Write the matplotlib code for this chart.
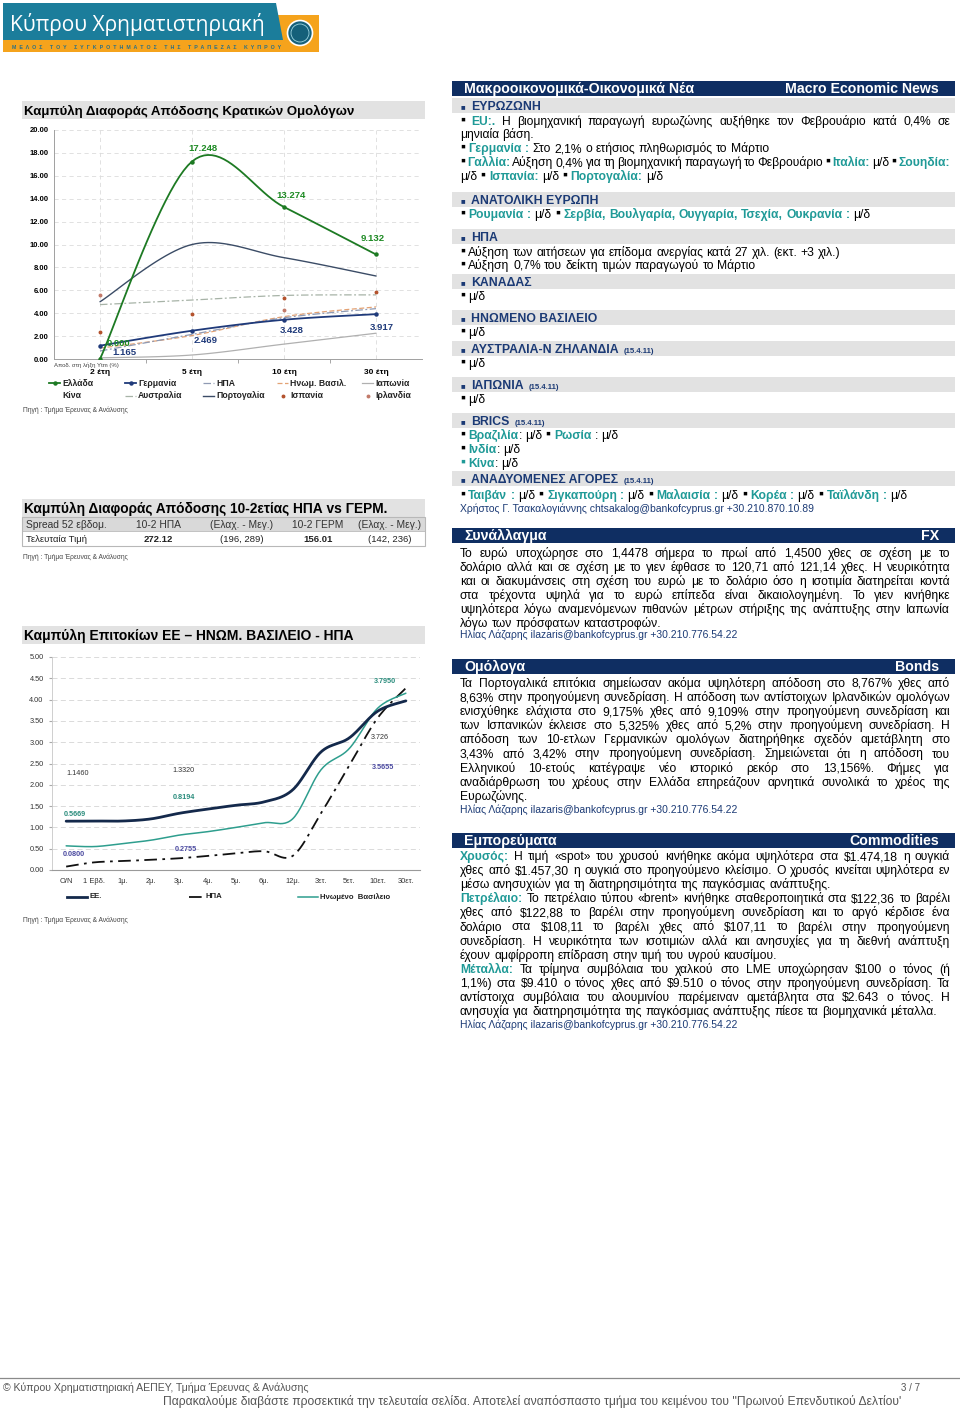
import matplotlib
matplotlib.use('Agg')
import matplotlib.pyplot as plt
from matplotlib.patches import Rectangle, Polygon, Circle
import numpy as np

plt.rcParams['font.family'] = ['Liberation Sans', 'DejaVu Sans']

# ---- yield curves of government bonds (chart 1) ----
tenors = ['2 έτη', '5 έτη', '10 έτη', '30 έτη']
greece = [0.000, 17.248, 13.274, 9.132]
germany = [1.165, 2.469, 3.428, 3.917]
usa = [0.70, 2.15, 3.60, 4.40]
uk = [0.95, 2.05, 3.70, 4.55]
japan = [0.10, 0.35, 1.30, 2.25]
china = [np.nan, np.nan, np.nan, np.nan]
australia = [4.75, 5.15, 5.55, 5.60]
portugal = [5.00, 10.00, 8.85, 7.25]
spain = [2.35, 3.90, 5.30, 5.85]
ireland = [5.60, np.nan, 4.30, np.nan]

# ---- 10-2 spread table ----
spread_head = ['Spread 52 εβδομ.', '10-2 ΗΠΑ', '(Ελαχ. - Μεγ.)', '10-2 ΓΕΡΜ', '(Ελαχ. - Μεγ.)']
spread_last = ['Τελευταία Τιμή', '272.12', '(196, 289)', '156.01', '(142, 236)']

# ---- money market / yield curves (chart 3) ----
maturities = ['O/N', '1 Εβδ.', '1μ.', '2μ.', '3μ.', '4μ.', '5μ.', '6μ.', '12μ.', '3ετ.', '5ετ.', '10ετ.', '30ετ.']
eu_rates = [1.1460, 1.15, 1.15, 1.20, 1.3320, 1.43, 1.52, 1.60, 1.88, 2.77, 3.10, 3.726, 3.97]
uk_rates = [0.5669, 0.55, 0.62, 0.70, 0.8194, 0.90, 1.00, 1.11, 1.20, 2.35, 2.85, 3.7950, 4.15]
us_rates = [0.0800, 0.18, 0.21, 0.24, 0.2755, 0.33, 0.39, 0.44, 0.33, 1.33, 2.45, 3.5655, 4.27]

TEAL = '#1f9a97'
NAVY = '#1b3a75'
BAR = '#0f2e62'
GRAY_BAR = '#e2e2e2'

W, H = 960, 1409
fig = plt.figure(figsize=(W / 100, H / 100), dpi=100)
bg = fig.add_axes([0, 0, 1, 1])
bg.set_xlim(0, W)
bg.set_ylim(H, 0)
bg.axis('off')
renderer = fig.canvas.get_renderer()


def width_of(t):
    return t.get_window_extent(renderer).width


def fit_size(s, x0, x1, **kw):
    t = bg.text(0, 0, s, fontsize=10, **kw)
    w = width_of(t)
    t.remove()
    return 10 * (x1 - x0) / w


def fit_text(x0, x1, y, s, **kw):
    size = fit_size(s, x0, x1, **kw)
    return bg.text(x0, y, s, fontsize=size, va='baseline', **kw)


def smooth(vals, n=24):
    # excel-like smoothed line through the points
    y = np.asarray(vals, float)
    pts = np.column_stack([np.arange(len(y), dtype=float), y])
    out = []
    t = np.linspace(0, 1, n)[:, None]
    for i in range(len(pts) - 1):
        p0 = pts[i - 1] if i > 0 else pts[i]
        p1, p2 = pts[i], pts[i + 1]
        p3 = pts[i + 2] if i + 2 < len(pts) else pts[i + 1]
        c1 = p1 + (p2 - p0) / 6
        c2 = p2 - (p3 - p1) / 6
        seg = (1 - t) ** 3 * p1 + 3 * (1 - t) ** 2 * t * c1 + 3 * (1 - t) * t ** 2 * c2 + t ** 3 * p2
        out.append(seg if i == 0 else seg[1:])
    s = np.vstack(out)
    return s[:, 0], s[:, 1]


SPACE = {}


def space_w(size):
    if size not in SPACE:
        a = bg.text(0, 0, 'n n', fontsize=size)
        b = bg.text(0, 0, 'nn', fontsize=size)
        SPACE[size] = width_of(a) - width_of(b)
        a.remove()
        b.remove()
    return SPACE[size]


def draw_runs(runs, x0, y, x1=None, size=8.4):
    tokens = []
    space_next = False
    for txt, color, weight in runs:
        for k, part in enumerate(txt.split(' ')):
            if k > 0:
                space_next = True
            if part:
                tokens.append((part, color, weight, space_next and bool(tokens)))
                space_next = False
    objs = []
    total = 0
    gaps = 0
    for part, color, weight, sp in tokens:
        dy = -1.8 if part == '▪' else 0
        t = bg.text(x0, y + dy, part, fontsize=size * (1.15 if part == '▪' else 1), color=color,
                    fontweight=weight, va='baseline')
        w = width_of(t)
        objs.append((t, w, sp))
        total += w
        gaps += sp
    gap = space_w(size)
    if x1 is not None and gaps:
        gap = (x1 - x0 - total) / gaps
    x = x0
    for t, w, sp in objs:
        if sp:
            x += gap
        t.set_x(x)
        x += w


def N(s):
    return (s, 'black', 'normal')


def B(s):
    return (s, TEAL, 'bold')


# ---------------- logo ----------------
bg.add_patch(Rectangle((3, 39), 282, 13, color='#f5a31c', lw=0))
bg.add_patch(Rectangle((277, 15), 42, 37, color='#f5a31c', lw=0))
bg.add_patch(Polygon([(3, 3), (276, 3), (283, 40), (3, 40)], closed=True, color='#1b7d9b', lw=0))
fit_text(10, 266, 31, 'Κύπρου Χρηματιστηριακή', color='white', family='Open Sans')
fit_text(12, 278, 49, '  '.join('ΜΕΛΟΣ ΤΟΥ ΣΥΓΚΡΟΤΗΜΑΤΟΣ ΤΗΣ ΤΡΑΠΕΖΑΣ ΚΥΠΡΟΥ'),
         color='#2a6f86', fontweight='bold')
bg.add_patch(Circle((300, 33), 12.5, facecolor='#15607a', edgecolor='white', lw=1.2))
bg.add_patch(Circle((300, 33), 9, facecolor='none', edgecolor='#9fd6e2', lw=0.6))

# ---------------- chart 1 ----------------
bg.add_patch(Rectangle((22, 101), 403, 18, color=GRAY_BAR, lw=0))
fit_text(24, 356, 115, 'Καμπύλη Διαφοράς Απόδοσης Κρατικών Ομολόγων', fontweight='bold')

ax1 = fig.add_axes([54 / W, 1 - 359 / H, 368 / W, 229 / H])
ax1.set_xlim(-0.5, 3.5)
ax1.set_ylim(0, 20)
ax1.set_yticks(np.arange(0, 21, 2))
ax1.set_yticklabels(['%.2f' % v for v in np.arange(0, 21, 2)], fontsize=5.5, fontweight='bold')
ax1.set_xticks(range(4))
ax1.set_xticklabels(tenors, fontsize=6, fontweight='bold')
ax1.set_xticks([0.5, 1.5, 2.5], minor=True)
ax1.tick_params(axis='x', which='major', length=0, pad=7)
ax1.tick_params(axis='x', which='minor', length=3, color='#999999')
ax1.tick_params(axis='y', length=0, pad=4)
ax1.grid(True, ls=(0, (5, 4)), color='#dcdcdc', lw=0.6)
for sp in ['top', 'right']:
    ax1.spines[sp].set_visible(False)
for sp in ['left', 'bottom']:
    ax1.spines[sp].set_color('#a0a0a0')
    ax1.spines[sp].set_linewidth(0.7)

series1 = [
    ('Ελλάδα', greece, dict(color='#1d7a23', lw=1.3), dict(marker='o', ms=2.2)),
    ('Γερμανία', germany, dict(color='#1f3a7a', lw=1.3), dict(marker='o', ms=2.2)),
    ('ΗΠΑ', usa, dict(color='#8f9ab3', lw=0.9, ls=(0, (6, 2, 1.5, 2))), None),
    ('Ηνωμ. Βασιλ.', uk, dict(color='#e3a274', lw=0.9, ls=(0, (4, 2))), None),
    ('Ιαπωνία', japan, dict(color='#b0b0b0', lw=0.9), None),
    ('Κίνα', china, None, None),
    ('Αυστραλία', australia, dict(color='#a7b3a7', lw=0.9, ls=(0, (6, 2, 1.5, 2))), None),
    ('Πορτογαλία', portugal, dict(color='#3b4c66', lw=1.0), None),
    ('Ισπανία', spain, None, dict(marker='o', ms=1.8, color='#b4532e')),
    ('Ιρλανδία', ireland, None, dict(marker='o', ms=1.8, color='#c27a6a')),
]
for name, vals, lstyle, mstyle in series1[::-1]:
    z = 5 if name in ('Ελλάδα', 'Γερμανία') else 3
    if lstyle is not None:
        xs, ys = smooth(vals)
        ax1.plot(xs, ys, zorder=z, solid_capstyle='round', **lstyle)
    if mstyle is not None:
        c = mstyle.get('color', lstyle['color'] if lstyle else 'k')
        ax1.plot(range(len(vals)), vals, ls='none', marker=mstyle['marker'], ms=mstyle['ms'],
                 color=c, zorder=z + 1)

greek_offsets = [(18, 15), (11, 13.5), (7, 12), (-3, 16)]
for i, v in enumerate(greece):
    ax1.annotate('%.3f' % v, (i, v), xytext=greek_offsets[i], textcoords='offset pixels',
                 ha='center', va='center', fontsize=6.8, fontweight='bold', color='#1d8a23', zorder=8)
germ_offsets = [(24, -7), (14, -10), (8, -11), (6, -13)]
for i, v in enumerate(germany):
    ax1.annotate('%.3f' % v, (i, v), xytext=germ_offsets[i], textcoords='offset pixels',
                 ha='center', va='center', fontsize=6.8, fontweight='bold', color='#1f3a7a', zorder=8)
bg.text(236, 215, 'Ελλάδα', fontsize=6.8, color='#1d8a23', fontweight='bold', ha='center', va='center')
bg.text(247, 341, 'Γερμανία', fontsize=7, color='#1f3a7a', fontweight='bold', ha='center', va='center')
bg.text(54, 365, 'Αποδ. στη λήξη Ytm (%)', fontsize=4.3, color='#444444', va='center')

label_x = [62, 138, 216, 290, 375]
for k, (name, vals, lstyle, mstyle) in enumerate(series1):
    row, col = divmod(k, 5)
    y = 383 + 13 * row
    lx = label_x[col]
    if lstyle is not None:
        bg.plot([lx - 13, lx - 2], [y, y], **lstyle)
    if mstyle is not None:
        c = mstyle.get('color', lstyle['color'] if lstyle else 'k')
        bg.plot([lx - 7.5], [y], marker='o', ms=mstyle['ms'], color=c)
    bg.text(lx, y, name, fontsize=6.2, fontweight='bold', va='center', color='#222222')
bg.text(23, 410, 'Πηγή : Τμήμα Έρευνας & Ανάλυσης', fontsize=4.8, color='#444444', va='center')

# ---------------- spread table ----------------
bg.add_patch(Rectangle((22, 499), 403, 18, color=GRAY_BAR, lw=0))
fit_text(24, 389, 513, 'Καμπύλη Διαφοράς Απόδοσης 10-2ετίας ΗΠΑ vs ΓΕΡΜ.', fontweight='bold')
bg.add_patch(Rectangle((22, 517), 403, 14, color='#d9d9d9', lw=0))
bg.add_patch(Rectangle((22, 517), 403, 29, facecolor='none', edgecolor='#b8b8b8', lw=0.8))
bg.plot([22, 425], [531, 531], color='#b8b8b8', lw=0.6)
col_x = [26, 158, 242, 318, 390]
for j in range(5):
    ha = 'left' if j == 0 else 'center'
    bg.text(col_x[j], 527.5, spread_head[j], fontsize=7.4, ha=ha, va='baseline', color='#333333')
    bold = 'bold' if j in (1, 3) else 'normal'
    bg.text(col_x[j], 542, spread_last[j], fontsize=6.8, ha=ha, va='baseline', fontweight=bold,
            color='#222222')
bg.text(23, 557, 'Πηγή : Τμήμα Έρευνας & Ανάλυσης', fontsize=4.8, color='#444444', va='center')

# ---------------- chart 3 ----------------
bg.add_patch(Rectangle((22, 626), 403, 18, color=GRAY_BAR, lw=0))
fit_text(24, 352, 640, 'Καμπύλη Επιτοκίων ΕΕ – ΗΝΩΜ. ΒΑΣΙΛΕΙΟ - ΗΠΑ', fontweight='bold')

ax3 = fig.add_axes([52 / W, 1 - 870 / H, 368 / W, 213 / H])
ax3.set_xlim(-0.5, 12.5)
ax3.set_ylim(0, 5)
yt = np.arange(0, 5.01, 0.5)
ax3.set_yticks(yt)
ax3.set_yticklabels(['%.2f' % v for v in yt], fontsize=5.3, color='#333333')
ax3.set_xticks(range(len(maturities)))
ax3.set_xticklabels(maturities, fontsize=5.4, color='#333333')
ax3.tick_params(axis='x', length=0, pad=6)
ax3.tick_params(axis='y', length=2, color='#aaaaaa', pad=4)
ax3.grid(True, axis='y', ls=(0, (6, 4)), color='#d4d4d4', lw=0.6)
for sp in ['top', 'right']:
    ax3.spines[sp].set_visible(False)
ax3.spines['left'].set_color('#c8c8c8')
ax3.spines['bottom'].set_color('#9a9a9a')
ax3.spines['left'].set_linewidth(0.6)
ax3.spines['bottom'].set_linewidth(0.8)

eu_style = dict(color='#14294b', lw=2.0)
uk_style = dict(color='#2e9e8e', lw=1.1)
us_style = dict(color='#111111', lw=1.3, ls=(0, (7, 3, 1.5, 3)))
for vals, st in [(us_rates, us_style), (uk_rates, uk_style), (eu_rates, eu_style)]:
    xs, ys = smooth(vals)
    ax3.plot(xs, ys, solid_capstyle='round', **st)

labels3 = [
    (eu_rates, 0, '#333333', (11, 48), '%.4f'), (eu_rates, 4, '#333333', (4, 43), '%.4f'),
    (eu_rates, 11, '#333333', (2, -26), '%.3f'),
    (uk_rates, 0, '#2a8c7c', (9, 31), '%.4f'), (uk_rates, 4, '#2a8c7c', (5, 38), '%.4f'),
    (uk_rates, 11, '#2a8c7c', (7, 27), '%.4f'),
    (us_rates, 0, '#4b4aa0', (8, 12), '%.4f'), (us_rates, 4, '#4b4aa0', (6, 9), '%.4f'),
    (us_rates, 11, '#4b4aa0', (5, -49), '%.4f'),
]
for vals, i, c, off, fmt in labels3:
    ax3.annotate(fmt % vals[i], (i, vals[i]), xytext=off, textcoords='offset pixels',
                 ha='center', va='center', fontsize=5.2, color=c,
                 fontweight='bold' if c != '#333333' else 'normal')

legend3 = [('ΕΕ.', eu_style, 88), ('ΗΠΑ', us_style, 204), ('Ηνωμένο  Βασίλειο', uk_style, 319)]
for name, st, lx in legend3:
    hl = 14 if name == 'ΗΠΑ' else 20
    bg.plot([lx - hl - 1, lx - 1], [897, 897], **st)
    bg.text(lx + 1, 897, name, fontsize=5.6, fontweight='bold', va='center', color='#222222')
bg.text(23, 920, 'Πηγή : Τμήμα Έρευνας & Ανάλυσης', fontsize=4.8, color='#444444', va='center')

# ---------------- right column ----------------
RX0, RX1 = 460, 950
BODY = fit_size('▪ Αύξηση 0,7% του δείκτη τιμών παραγωγού το Μάρτιο', 460, 755)
HEAD = fit_size('ΕΥΡΩΖΩΝΗ', 471, 540, fontweight='bold')
BANNER = fit_size('Μακροοικονομικά-Οικονομικά Νέα', 463, 690, fontweight='bold')


def banner(y0, left, right):
    bg.add_patch(Rectangle((452, y0), 503, 15, color=BAR, lw=0))
    bg.text(464, y0 + 12, left, fontsize=BANNER, color='white', fontweight='bold', va='baseline')
    bg.text(939, y0 + 12, right, fontsize=BANNER, color='white', fontweight='bold', va='baseline',
            ha='right')


def section(y0, name, date=None):
    bg.add_patch(Rectangle((452, y0), 503, 15, color=GRAY_BAR, lw=0))
    bg.text(461, y0 + 11.5, '■', fontsize=5.5, color=NAVY, va='baseline')
    t = bg.text(471, y0 + 12, name, fontsize=HEAD, color=NAVY, fontweight='bold', va='baseline')
    if date:
        bg.text(471 + width_of(t) + 5, y0 + 12, date, fontsize=5.6, color=NAVY, fontweight='bold',
                va='baseline')


def author(y, s, x1):
    fit_text(460, x1, y, s, color=NAVY)


banner(81, 'Μακροοικονομικά-Οικονομικά Νέα', 'Macro Economic News')
section(98, 'ΕΥΡΩΖΩΝΗ')
draw_runs([N('▪ '), B('EU:.'), N(' Η βιομηχανική παραγωγή ευρωζώνης αυξήθηκε τον Φεβρουάριο κατά 0,4% σε')],
          RX0, 125, RX1, BODY)
draw_runs([N('μηνιαία βάση.')], RX0, 138, None, BODY)
draw_runs([N('▪ '), B('Γερμανία :'), N(' Στο 2,1% ο ετήσιος πληθωρισμός το Μάρτιο')], RX0, 152, None, BODY)
draw_runs([N('▪ '), B('Γαλλία:'), N(' Αύξηση 0,4% για τη βιομηχανική παραγωγή το Φεβρουάριο ▪ '),
           B('Ιταλία:'), N(' μ/δ ▪ '), B('Σουηδία:')], RX0, 166, RX1, BODY)
draw_runs([N('μ/δ ▪ '), B('Ισπανία:'), N(' μ/δ ▪ '), B('Πορτογαλία:'), N(' μ/δ')], RX0, 180, None, BODY)

section(192, 'ΑΝΑΤΟΛΙΚΗ ΕΥΡΩΠΗ')
draw_runs([N('▪ '), B('Ρουμανία :'), N(' μ/δ ▪ '), B('Σερβία, Βουλγαρία, Ουγγαρία, Τσεχία, Ουκρανία :'),
           N(' μ/δ')], RX0, 218, None, BODY)

section(229, 'ΗΠΑ')
draw_runs([N('▪ Αύξηση των αιτήσεων για επίδομα ανεργίας κατά 27 χιλ. (εκτ. +3 χιλ.)')], RX0, 256, None, BODY)
draw_runs([N('▪ Αύξηση 0,7% του δείκτη τιμών παραγωγού το Μάρτιο')], RX0, 269, None, BODY)
section(274, 'ΚΑΝΑΔΑΣ')
draw_runs([N('▪ μ/δ')], RX0, 300, None, BODY)
section(310, 'ΗΝΩΜΕΝΟ ΒΑΣΙΛΕΙΟ')
draw_runs([N('▪ μ/δ')], RX0, 336, None, BODY)
section(341, 'ΑΥΣΤΡΑΛΙΑ-Ν ΖΗΛΑΝΔΙΑ', '(15.4.11)')
draw_runs([N('▪ μ/δ')], RX0, 367, None, BODY)
section(377, 'ΙΑΠΩΝΙΑ', '(15.4.11)')
draw_runs([N('▪ μ/δ')], RX0, 403, None, BODY)
section(413, 'BRICS', '(15.4.11)')
draw_runs([N('▪ '), B('Βραζιλία'), N(': μ/δ ▪ '), B('Ρωσία'), N(' : μ/δ')], RX0, 439, None, BODY)
draw_runs([N('▪ '), B('Ινδία'), N(': μ/δ')], RX0, 453, None, BODY)
draw_runs([B('▪ Κίνα'), N(': μ/δ')], RX0, 467, None, BODY)
section(471, 'ΑΝΑΔΥΟΜΕΝΕΣ ΑΓΟΡΕΣ', '(15.4.11)')
draw_runs([N('▪ '), B('Ταιβάν :'), N(' μ/δ ▪ '), B('Σιγκαπούρη :'), N(' μ/δ ▪ '), B('Μαλαισία :'),
           N(' μ/δ ▪ '), B('Κορέα :'), N('  μ/δ ▪ '), B('Ταϊλάνδη :'), N(' μ/δ')], RX0, 499, None, BODY)
author(512, 'Χρήστος Γ. Τσακαλογιάννης chtsakalog@bankofcyprus.gr +30.210.870.10.89', 813)

fx_lines = [
    'Το ευρώ υποχώρησε στο 1,4478 σήμερα το πρωί από 1,4500 χθες σε σχέση με το',
    'δολάριο αλλά και σε σχέση με το γιεν έφθασε το 120,71 από 121,14 χθες. Η νευρικότητα',
    'και οι διακυμάνσεις στη σχέση του ευρώ με το δολάριο όσο η ισοτιμία διατηρείται κοντά',
    'στα τρέχοντα υψηλά για το ευρώ επίπεδα είναι δικαιολογημένη. Το γιεν κινήθηκε',
    'υψηλότερα λόγω αναμενόμενων πιθανών μέτρων στήριξης της ανάπτυξης στην Ιαπωνία',
    'λόγω των πρόσφατων καταστροφών.',
]
banner(528, 'Συνάλλαγμα', 'FX')
for k, s in enumerate(fx_lines):
    draw_runs([N(s)], RX0, 557 + 14 * k, RX1 if k < len(fx_lines) - 1 else None, BODY)
author(638, 'Ηλίας Λάζαρης ilazaris@bankofcyprus.gr +30.210.776.54.22', 737)

bond_lines = [
    'Τα Πορτογαλικά επιτόκια σημείωσαν ακόμα υψηλότερη απόδοση στο 8,767% χθες από',
    '8,63% στην προηγούμενη συνεδρίαση. Η απόδοση των αντίστοιχων Ιρλανδικών ομολόγων',
    'ενισχύθηκε ελάχιστα στο 9,175% χθες από 9,109% στην προηγούμενη συνεδρίαση και',
    'των Ισπανικών έκλεισε στο 5,325% χθες από 5,2% στην προηγούμενη συνεδρίαση. Η',
    'απόδοση των 10-ετλων Γερμανικών ομολόγων διατηρήθηκε σχεδόν αμετάβλητη στο',
    '3,43% από 3,42% στην προηγούμενη συνεδρίαση. Σημειώνεται ότι η απόδοση του',
    'Ελληνικού 10-ετούς κατέγραψε νέο ιστορικό ρεκόρ στο 13,156%. Φήμες για',
    'αναδιάρθρωση του χρέους στην Ελλάδα επηρεάζουν αρνητικά συνολικά το χρέος της',
    'Ευρωζώνης.',
]
banner(659, 'Ομόλογα', 'Bonds')
for k, s in enumerate(bond_lines):
    draw_runs([N(s)], RX0, 687 + 14.1 * k, RX1 if k < len(bond_lines) - 1 else None, BODY)
author(813, 'Ηλίας Λάζαρης ilazaris@bankofcyprus.gr +30.210.776.54.22', 737)

commodity_lines = [
    ([B('Χρυσός:'), N(' Η τιμή «spot» του χρυσού κινήθηκε ακόμα υψηλότερα στα $1.474,18 η ουγκιά')], True),
    ([N('χθες από $1.457,30 η ουγκιά στο προηγούμενο κλείσιμο. Ο χρυσός κινείται υψηλότερα εν')], True),
    ([N('μέσω ανησυχιών για τη διατηρησιμότητα της παγκόσμιας ανάπτυξης.')], False),
    ([B('Πετρέλαιο:'), N(' Το πετρέλαιο τύπου «brent» κινήθηκε σταθεροποιητικά στα $122,36 το βαρέλι')], True),
    ([N('χθες από $122,88 το βαρέλι στην προηγούμενη συνεδρίαση και το αργό κέρδισε ένα')], True),
    ([N('δολάριο στα $108,11 το βαρέλι χθες από $107,11 το βαρέλι στην προηγούμενη')], True),
    ([N('συνεδρίαση. Η νευρικότητα των ισοτιμιών αλλά και ανησυχίες για τη διεθνή ανάπτυξη')], True),
    ([N('έχουν αμφίρροπη επίδραση στην τιμή του υγρού καυσίμου.')], False),
    ([B('Μέταλλα:'), N(' Τα τρίμηνα συμβόλαια του χαλκού στο LME υποχώρησαν $100 ο τόνος (ή')], True),
    ([N('1,1%) στα $9.410 ο τόνος χθες από $9.510 ο τόνος στην προηγούμενη συνεδρίαση. Τα')], True),
    ([N('αντίστοιχα συμβόλαια του αλουμινίου παρέμειναν αμετάβλητα στα $2.643 ο τόνος. Η')], True),
    ([N('ανησυχία για διατηρησιμότητα της παγκόσμιας ανάπτυξης πίεσε τα βιομηχανικά μέταλλα.')], False),
]
banner(833, 'Εμπορεύματα', 'Commodities')
for k, (runs, just) in enumerate(commodity_lines):
    draw_runs(runs, RX0, 860 + 14.1 * k, RX1 if just else None, BODY)
author(1028, 'Ηλίας Λάζαρης ilazaris@bankofcyprus.gr +30.210.776.54.22', 737)

# ---------------- footer ----------------
bg.plot([0, W], [1378, 1378], color='#8a8a8a', lw=0.9)
narrow = ['Liberation Sans Narrow', 'Liberation Sans', 'DejaVu Sans']
fit_text(3, 310, 1391, '© Κύπρου Χρηματιστηριακή ΑΕΠΕΥ, Τμήμα Έρευνας & Ανάλυσης', color='#555555',
         family=narrow)
bg.text(920, 1391, '3 / 7', fontsize=7, color='#555555', ha='right', va='baseline', family=narrow)
fit_text(163, 905, 1405,
         "Παρακαλούμε διαβάστε προσεκτικά την τελευταία σελίδα. Αποτελεί αναπόσπαστο τμήμα του κειμένου του ''Πρωινού Επενδυτικού Δελτίου'",
         color='#555555', family=narrow)

fig.savefig('out.png', dpi=100, facecolor='white')
